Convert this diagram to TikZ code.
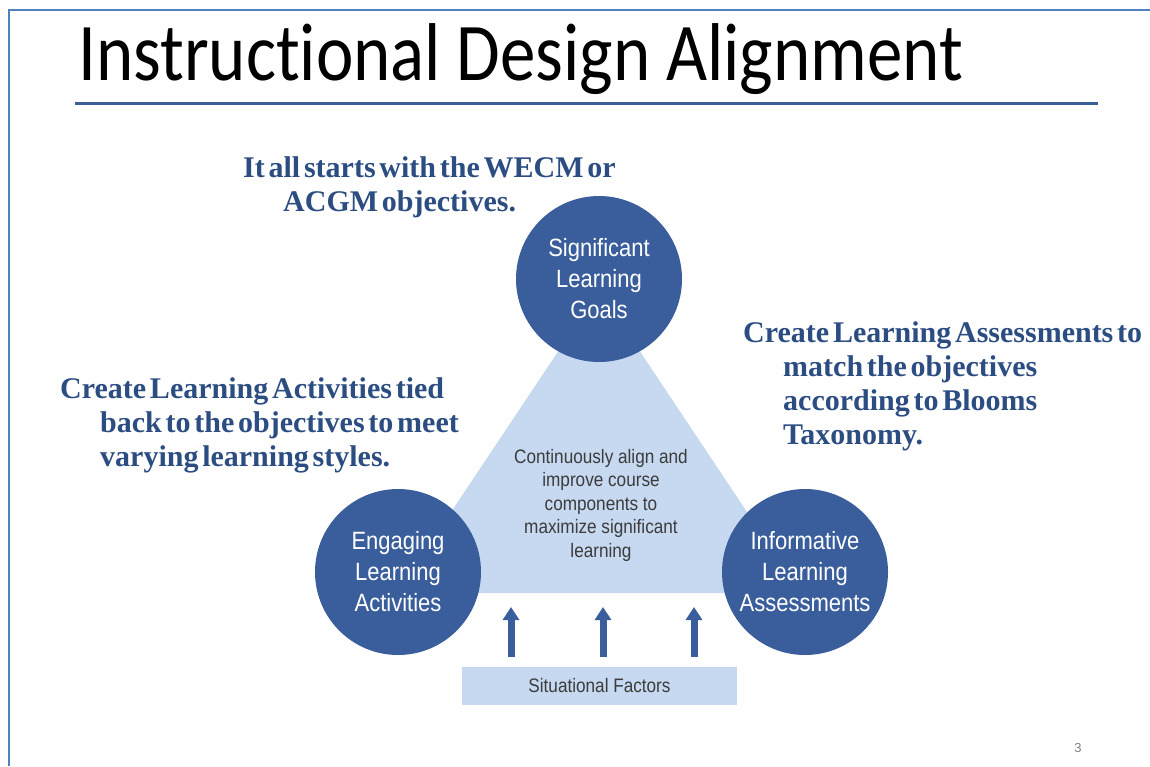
\documentclass[tikz,border=0pt]{standalone}
\usepackage{fontspec}
\setmainfont{Liberation Sans}
\newfontfamily\titlefont[FakeStretch=0.865,RawFeature=-liga]{Carlito}
\newfontfamily\notefont[WordSpace=0.5]{Liberation Serif}
\newfontfamily\boxfont[FakeStretch=0.88]{Liberation Sans}
\usetikzlibrary{arrows.meta}
\definecolor{frameblue}{HTML}{4F81BD}
\definecolor{ruleblue}{HTML}{3B5F96}
\definecolor{diskblue}{HTML}{3A5E9B}
\definecolor{paleblue}{HTML}{C6D9F0}
\definecolor{noteblue}{HTML}{2C4D82}
\definecolor{textgray}{HTML}{3C3C3C}
\tikzset{
 disk/.style={circle,fill=diskblue,minimum size=166pt,inner sep=0pt,text=white,
  align=center,font=\boxfont\fontsize{25}{31}\selectfont},
 note/.style={anchor=base west,inner sep=0pt,text=noteblue,
  font=\notefont\bfseries\fontsize{30}{34}\selectfont},
 uparrow/.style={diskblue,line width=7pt,-{Triangle[width=16pt,length=13pt]}},
}
\begin{document}
\begin{tikzpicture}[x=1pt,y=-1pt]
 \def\ind{40pt}%indent of the notes
 \useasboundingbox (0,0) rectangle (1150,766);
 \draw[frameblue,line width=2pt] (9,766)--(9,9.5)--(1150,9.5);
 \path (78,80) node[anchor=base west,inner sep=0pt,
  font=\titlefont\fontsize{82}{90}\selectfont] (title) {Instructional Design Alignment};
 \draw[ruleblue,line width=3pt] (75,103)--(1098,103);
 \fill[paleblue] (599,290)--(397,593)--(801,593)--cycle;
 \path
 (599,279) node[disk] (goals) {Significant\\Learning\\Goals}
 (398,572) node[disk] (activities) {Engaging\\Learning\\Activities}
 (805,572) node[disk] (assessments) {Informative\\Learning\\Assessments}
 (601,505) node[align=center,text=textgray,
  font=\boxfont\fontsize{19.5}{23.5}\selectfont] (align) {Continuously align and\\improve course\\components to\\maximize significant\\learning}
 (599.5,686) node[fill=paleblue,minimum width=275pt,minimum height=38pt,text=textgray,
  font=\boxfont\fontsize{19.5}{22}\selectfont] (factors) {Situational Factors}
 (1078,748) node[text=gray,font=\fontsize{13}{15}\selectfont] (page) {3}
 ;
 \path
 (243,177) node[note] (goalsnote) {\begin{tabular}[t]{@{}l@{}}It all starts with the WECM or\\\hspace*{\ind}ACGM objectives.\end{tabular}}
 (60,398) node[note] (activitiesnote) {\begin{tabular}[t]{@{}l@{}}Create Learning Activities tied\\\hspace*{\ind}back to the objectives to meet\\\hspace*{\ind}varying learning styles.\end{tabular}}
 (743,342) node[note] (assessmentsnote) {\begin{tabular}[t]{@{}l@{}}Create Learning Assessments to\\\hspace*{\ind}match the objectives\\\hspace*{\ind}according to Blooms\\\hspace*{\ind}Taxonomy.\end{tabular}}
 ;
 \foreach \i/\x in {1/511,2/603,3/694}
 \coordinate (t\i) at (\x,607);
 \foreach \i in {1,2,3}
 \draw[uparrow,shorten <=10pt] (factors.north -| t\i)--(t\i);
\end{tikzpicture}
\end{document}
